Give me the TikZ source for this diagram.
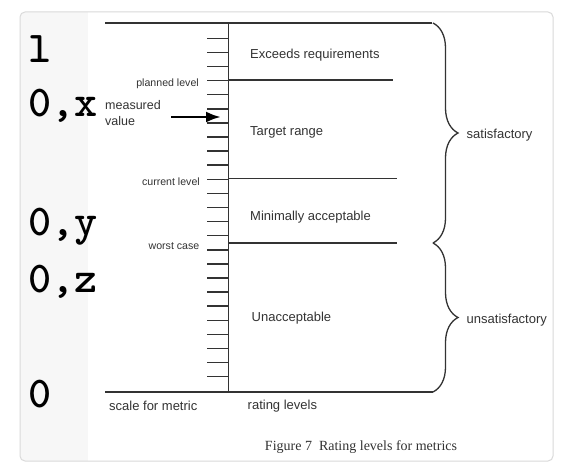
\documentclass[tikz,border=0pt]{standalone}
\usepackage{fontspec}
\setmainfont{Liberation Sans}
\newfontfamily\capfont{Liberation Serif}
\usetikzlibrary{decorations.pathreplacing,arrows.meta}
\definecolor{ink}{HTML}{333333}
\definecolor{frameline}{HTML}{DADADA}
\definecolor{strip}{HTML}{F7F7F7}
\tikzset{
  rule/.style={draw=ink, line width=1.4pt},
  tick/.style={draw=ink, line width=1.5pt},
  lbl/.style={text=ink, font=\fontsize{13}{15}\selectfont, inner sep=0pt},
  smalllbl/.style={text=ink, font=\fontsize{10.6}{12}\selectfont, inner sep=0pt, anchor=east},
  numlbl/.style={text=black, font=\ttfamily\bfseries\fontsize{44}{44}\selectfont, inner sep=0pt, anchor=base west},
  bracestyle/.style={draw=ink, line width=1.3pt, decorate, decoration={brace, amplitude=25pt}},
}
\begin{document}
\begin{tikzpicture}[x=1pt, y=-1pt]
\useasboundingbox (0,0) rectangle (569,473);
% frame
\fill[white] (0,0) rectangle (569,473);
\begin{scope}
\clip[rounded corners=5pt] (20,12) rectangle (553,461);
\fill[white] (20,12) rectangle (553,461);
\fill[strip] (20,12) rectangle (88,461);
\end{scope}
\draw[frameline, line width=1pt, rounded corners=5pt] (20,12) rectangle (553,461);

% coordinates
\coordinate (topL) at (105,23);
\coordinate (topR) at (432,23);
\coordinate (botL) at (105,392);
\coordinate (botR) at (433,392);
\coordinate (axT) at (228.5,23);
\coordinate (axB) at (228.5,392);
\coordinate (plL) at (228.5,80);
\coordinate (plR) at (393,80);
\coordinate (cuL) at (228.5,178.5);
\coordinate (cuR) at (397,178.5);
\coordinate (woL) at (228.5,243);
\coordinate (woR) at (397,243);

\draw[rule] (topL) -- (topR);
\draw[rule] (botL) -- (botR);
\draw[rule] (axT) -- (axB);
\draw[rule] (plL) -- (plR);
\draw[rule] (cuL) -- (cuR);
\draw[rule] (woL) -- (woR);

% ticks
\foreach \i in {0,...,24}{
  \draw[tick] (207,{38.3+\i*14.1}) -- (228.5,{38.3+\i*14.1});
}

% level labels
\node[smalllbl] (planned) at (199,84) {planned level};
\node[smalllbl] (current) at (200,181.5) {current level};
\node[smalllbl] (worst) at (199.5,246) {worst case};
\node[lbl, anchor=north west, align=left, font=\fontsize{12.5}{16.5}\selectfont] (meas) at (105,100) {measured\\value};
\coordinate (arrS) at (171,117);
\coordinate (arrE) at (221,117);
\draw[line width=2.8pt, black, -{Latex[length=15pt,width=11pt]}] (arrS) -- (arrE);

% rating labels
\node[lbl, anchor=west] (exc) at (250,55) {Exceeds requirements};
\node[lbl, anchor=west] (tgt) at (250,132.5) {Target range};
\node[lbl, anchor=west] (mini) at (250,217) {Minimally acceptable};
\node[lbl, anchor=west] (unac) at (251.5,318) {Unacceptable};

% braces
\coordinate (b1s) at (433,23);
\coordinate (b1e) at (433,243);
\coordinate (b2s) at (433,243);
\coordinate (b2e) at (433,392);
\draw[bracestyle] (b1s) -- (b1e);
\draw[bracestyle] (b2s) -- (b2e);
\node[lbl, anchor=west] (sat) at (466.5,135) {satisfactory};
\node[lbl, anchor=west] (unsat) at (466.5,320) {unsatisfactory};

% bottom labels
\node[lbl, anchor=west] (scale) at (109,406) {scale for metric};
\node[lbl, anchor=west] (rating) at (247.5,406) {rating levels};
\node[text=ink, inner sep=0pt, font=\capfont\fontsize{14}{16}\selectfont] (cap) at (361,447) {Figure 7\ \ Rating levels for metrics};

% left numbers
\node[numlbl] (n1) at (28,63) {l};
\node[numlbl] (nx) at (28,117) {0,x};
\node[numlbl] (ny) at (28,235) {0,y};
\node[numlbl] (nz) at (28,292) {0,z};
\node[numlbl] (n0) at (28,407) {0};
\end{tikzpicture}
\end{document}
